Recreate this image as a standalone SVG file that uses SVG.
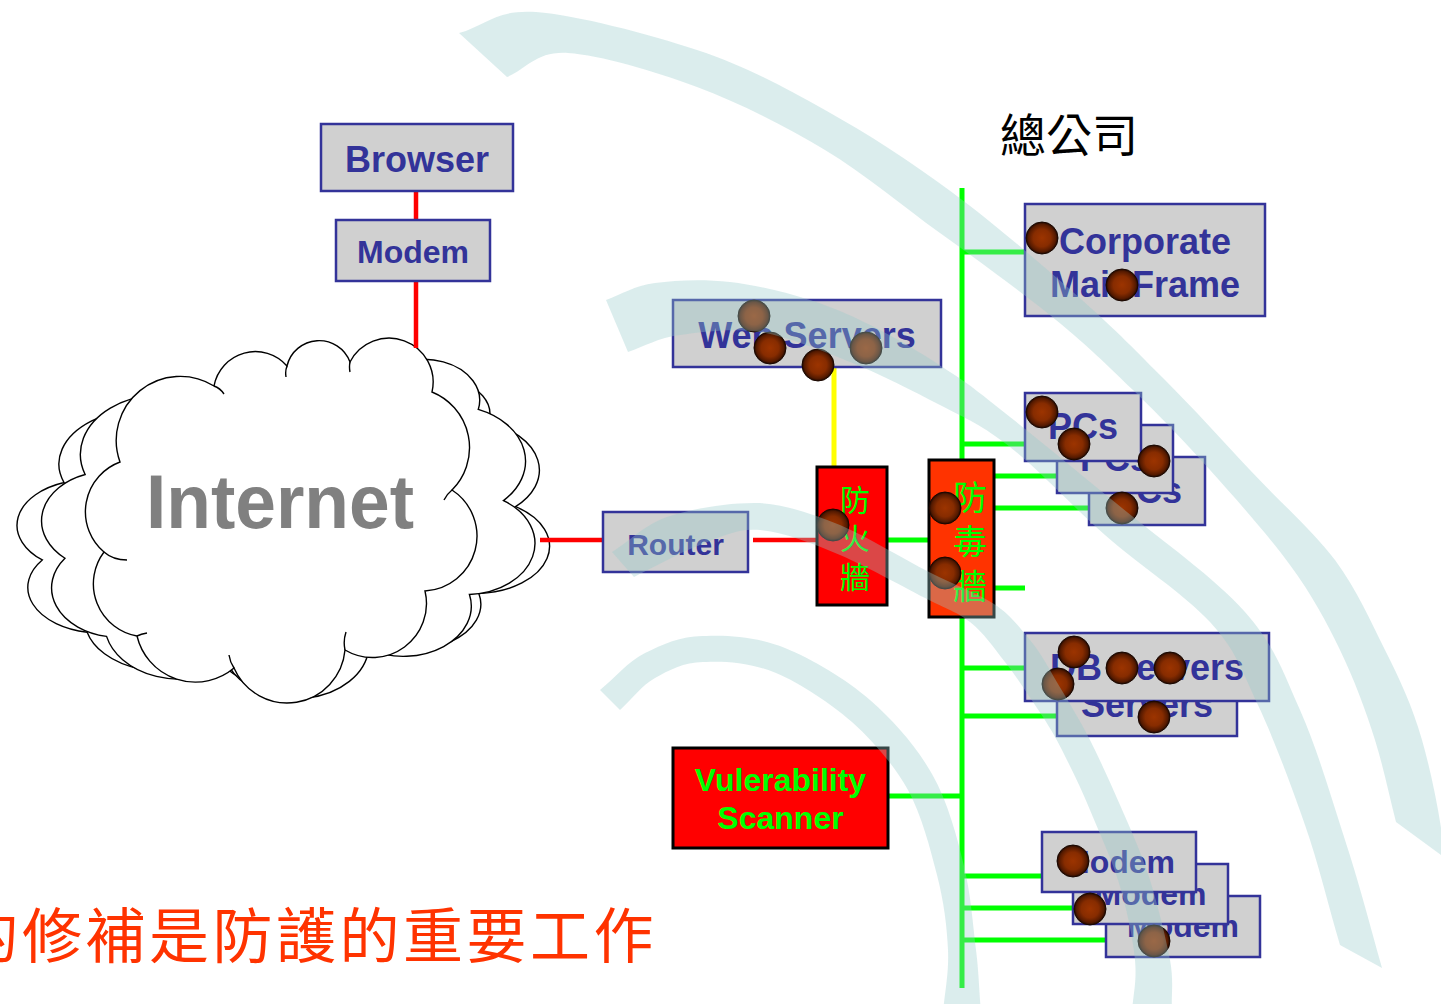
<svg xmlns="http://www.w3.org/2000/svg" xmlns:xlink="http://www.w3.org/1999/xlink" width="1441" height="1004" viewBox="0 0 1441 1004">
  <defs>
    <style>
      .box { fill:#D0D0D0; stroke:#333399; stroke-width:2.5; }
      .lbl { font-family:"Liberation Sans", Arial, sans-serif; font-weight:bold; fill:#333399; text-anchor:middle; }
      .alarm { stroke:#000000; stroke-width:3; }
      .cjk { font-family:"Noto Sans CJK TC", "Noto Sans CJK SC", sans-serif; text-anchor:middle; }
      .red { stroke:#FF0000; stroke-width:4.5; }
      .grn { stroke:#00FF00; stroke-width:5; }
      .ylw { stroke:#FFFF00; stroke-width:5; }
      .hole { fill:url(#ballShade); stroke:#1a0700; stroke-width:1; }
      .wave { fill:#99CCCC; fill-opacity:0.35; }
      .cloud { fill:#FFFFFF; stroke:#000000; stroke-width:1.4; vector-effect:non-scaling-stroke; }
      .tail { fill:none; stroke:#000000; stroke-width:1.4; }
    </style>
    <radialGradient id="ballShade" cx="0.5" cy="0.5" r="0.5">
      <stop offset="0" stop-color="#9c3400"/>
      <stop offset="0.55" stop-color="#872c00"/>
      <stop offset="0.85" stop-color="#551a00"/>
      <stop offset="1" stop-color="#1e0800"/>
    </radialGradient>
    <!-- cloud outline: bumps joined by circular arcs -->
    <path id="cloudShape" class="cloud" d="M104,552 A53,53 0 0 1 120,462 A64,64 0 0 1 214,386 A42,42 0 0 1 287,366 A33,33 0 0 1 350,362 A44,44 0 0 1 432,392 A60,60 0 0 1 452,490 A55,55 0 0 1 425,591 A54,54 0 0 1 345,650 A58,58 0 0 1 234,668 A60,60 0 0 1 137,636 A53,53 0 0 1 104,552 Z"/>
  </defs>

  <rect width="1441" height="1004" fill="#FFFFFF"/>

  <!-- Internet cloud (three stacked outlines) -->
  <g id="node-internet">
    <use xlink:href="#cloudShape" href="#cloudShape" transform="translate(283,532) scale(1.36,0.86) translate(-281,-519.5)"/>
    <use xlink:href="#cloudShape" href="#cloudShape" transform="translate(288,528) scale(1.26,0.93) translate(-281,-519.5)"/>
    <use xlink:href="#cloudShape" href="#cloudShape"/>
    <path class="tail" d="M104,552 Q113,560 127,560 M214,386 Q220,388 224,394 M287,366 Q285,371 286,377 M350,362 Q349,367 350,372 M452,490 Q447,494 444,500 M345,650 Q343,641 346,632 M234,668 Q230,662 229,655 M137,636 Q141,634 147,633"/>
    <text x="280" y="528" font-family="Liberation Sans, Arial, sans-serif" font-weight="bold" font-size="76" fill="#808080" text-anchor="middle" textLength="268" lengthAdjust="spacingAndGlyphs">Internet</text>
  </g>

  <!-- connectors -->
  <g id="connectors" fill="none">
    <line class="red" x1="416" y1="191" x2="416" y2="220"/>
    <line class="red" x1="416" y1="281" x2="416" y2="348"/>
    <line class="red" x1="540" y1="540" x2="603" y2="540"/>
    <line class="red" x1="753" y1="540" x2="817" y2="540"/>
    <line class="ylw" x1="834" y1="368" x2="834" y2="467"/>
    <line class="grn" x1="887" y1="540" x2="929" y2="540"/>
    <line class="grn" x1="962" y1="188" x2="962" y2="988"/>
    <line class="grn" x1="962" y1="252" x2="1025" y2="252"/>
    <line class="grn" x1="962" y1="444" x2="1025" y2="444"/>
    <line class="grn" x1="994" y1="476" x2="1057" y2="476"/>
    <line class="grn" x1="994" y1="508" x2="1089" y2="508"/>
    <line class="grn" x1="994" y1="588" x2="1025" y2="588"/>
    <line class="grn" x1="962" y1="668" x2="1025" y2="668"/>
    <line class="grn" x1="962" y1="716" x2="1057" y2="716"/>
    <line class="grn" x1="889" y1="796" x2="962" y2="796"/>
    <line class="grn" x1="962" y1="876" x2="1042" y2="876"/>
    <line class="grn" x1="962" y1="908" x2="1073" y2="908"/>
    <line class="grn" x1="962" y1="940" x2="1106" y2="940"/>
  </g>

  <g id="node-browser">
    <rect class="box" x="321" y="124" width="192" height="67"/>
    <text class="lbl" x="417" y="172" font-size="36">Browser</text>
  </g>
  <g id="node-modem">
    <rect class="box" x="336" y="220" width="154" height="61"/>
    <text class="lbl" x="413" y="263" font-size="32">Modem</text>
  </g>
  <g id="node-router">
    <rect class="box" x="603" y="512" width="145" height="60"/>
    <text class="lbl" x="675.5" y="555" font-size="30">Router</text>
  </g>
  <g id="node-webservers">
    <rect class="box" x="673" y="300" width="268" height="67"/>
    <text class="lbl" x="807" y="348" font-size="36">Web Servers</text>
  </g>
  <g id="node-firewall">
    <rect class="alarm" x="817" y="467" width="70" height="138" fill="#FF0000"/>
    <g class="cjk" font-size="30" fill="#00FF00">
      <text x="855" y="511">防</text>
      <text x="855" y="549">火</text>
      <text x="855" y="588">牆</text>
    </g>
  </g>
  <g id="node-antivirus">
    <rect class="alarm" x="929" y="460" width="65" height="157" fill="#FF3300"/>
    <g class="cjk" font-size="34" fill="#00FF00">
      <text x="970" y="510">防</text>
      <text x="970" y="554">毒</text>
      <text x="970" y="599">牆</text>
    </g>
  </g>
  <g id="node-title">
    <text x="1000" y="152" font-family="Noto Sans CJK TC, Noto Sans CJK SC, sans-serif" font-size="46" fill="#000000">總公司</text>
  </g>
  <g id="node-mainframe">
    <rect class="box" x="1025" y="204" width="240" height="112"/>
    <text class="lbl" x="1145" y="254" font-size="36">Corporate</text>
    <text class="lbl" x="1145" y="297" font-size="36">MainFrame</text>
  </g>
  <g id="node-pcs">
    <rect class="box" x="1089" y="457" width="116" height="68"/>
    <text class="lbl" x="1147" y="503" font-size="36">PCs</text>
    <rect class="box" x="1057" y="425" width="116" height="68"/>
    <text class="lbl" x="1115" y="471" font-size="36">PCs</text>
    <rect class="box" x="1025" y="393" width="116" height="68"/>
    <text class="lbl" x="1083" y="439" font-size="36">PCs</text>
  </g>
  <g id="node-dbservers">
    <rect class="box" x="1057" y="667" width="180" height="69"/>
    <text class="lbl" x="1147" y="717" font-size="36">Servers</text>
    <rect class="box" x="1025" y="633" width="244" height="68"/>
    <text class="lbl" x="1147" y="680" font-size="36">DB Servers</text>
  </g>
  <g id="node-scanner">
    <rect class="alarm" x="673" y="748" width="215" height="100" fill="#FF0000"/>
    <text x="780.5" y="791" font-family="Liberation Sans, Arial, sans-serif" font-weight="bold" font-size="32" fill="#00FF00" text-anchor="middle">Vulerability</text>
    <text x="780.5" y="829" font-family="Liberation Sans, Arial, sans-serif" font-weight="bold" font-size="32" fill="#00FF00" text-anchor="middle">Scanner</text>
  </g>
  <g id="node-modems">
    <rect class="box" x="1106" y="896" width="154" height="61"/>
    <text class="lbl" x="1183" y="937" font-size="32">Modem</text>
    <rect class="box" x="1073" y="864" width="155" height="60"/>
    <text class="lbl" x="1150.5" y="905" font-size="32">Modem</text>
    <rect class="box" x="1042" y="832" width="154" height="60"/>
    <text class="lbl" x="1119" y="873" font-size="32">Modem</text>
  </g>

  <!-- security holes -->
  <g id="holes">
    <circle class="hole" cx="754" cy="316" r="16"/>
    <circle class="hole" cx="770" cy="348" r="16"/>
    <circle class="hole" cx="818" cy="365" r="16"/>
    <circle class="hole" cx="866" cy="348" r="16"/>
    <circle class="hole" cx="1042" cy="238" r="16"/>
    <circle class="hole" cx="1122" cy="285" r="16"/>
    <circle class="hole" cx="1042" cy="412" r="16"/>
    <circle class="hole" cx="1074" cy="444" r="16"/>
    <circle class="hole" cx="1154" cy="461" r="16"/>
    <circle class="hole" cx="1122" cy="508" r="16"/>
    <circle class="hole" cx="833" cy="525" r="16"/>
    <circle class="hole" cx="945" cy="508" r="16"/>
    <circle class="hole" cx="945" cy="573" r="16"/>
    <circle class="hole" cx="1074" cy="652" r="16"/>
    <circle class="hole" cx="1122" cy="668" r="16"/>
    <circle class="hole" cx="1170" cy="668" r="16"/>
    <circle class="hole" cx="1058" cy="684" r="16"/>
    <circle class="hole" cx="1154" cy="717" r="16"/>
    <circle class="hole" cx="1073" cy="861" r="16"/>
    <circle class="hole" cx="1090" cy="909" r="16"/>
    <circle class="hole" cx="1154" cy="941" r="16"/>
  </g>

  <!-- caption -->
  <text x="-41.5" y="958" font-family="Noto Sans CJK TC, Noto Sans CJK SC, sans-serif" font-size="60" letter-spacing="3.5" fill="#FF3300">的修補是防護的重要工作</text>

  <!-- translucent background waves -->
  <g id="waves" class="wave">
    <path d="M459,33 C485,26 496,9 536,12 C576,15 649,34 697,50 C745,66 782,86 825,110 C868,134 910,161 953,193 C996,225 1047,269 1082,300 C1117,331 1137,352 1165,380 C1193,408 1222,440 1250,470 C1278,500 1312,530 1335,560 C1357,590 1370,620 1385,650 C1400,680 1412,705 1422,740 C1432,775 1441,820 1445,858 L1396,822 C1389,795 1384,769 1375,740 C1366,711 1354,679 1340,650 C1326,621 1312,595 1290,565 C1268,535 1236,499 1210,470 C1184,441 1159,415 1133,390 C1107,365 1088,346 1056,320 C1024,294 979,261 940,233 C901,205 865,174 825,150 C785,126 740,103 697,87 C654,71 600,55 568,53 C536,51 527,69 507,77 Z"/>
    <path d="M606,300 C622,294 634,286 655,283 C676,280 704,279 730,282 C756,285 785,292 810,300 C835,308 857,318 880,330 C903,342 928,357 950,372 C972,386 981,394 1010,417 C1039,440 1083,476 1122,508 C1161,540 1215,578 1245,612 C1275,646 1283,672 1300,710 C1317,748 1331,797 1345,840 C1359,883 1370,925 1382,968 L1340,945 C1328,905 1319,865 1305,825 C1291,785 1274,739 1258,705 C1242,671 1236,650 1210,622 C1184,594 1138,564 1105,535 C1072,506 1038,469 1010,447 C982,425 967,419 940,405 C913,391 880,374 850,362 C820,350 788,337 760,332 C732,328 702,332 680,335 C658,338 645,346 628,352 Z"/>
    <path d="M612,552 C631,540 645,524 670,516 C695,508 732,502 760,503 C788,505 812,514 840,525 C868,537 903,559 929,572 C955,585 977,593 994,604 C1011,615 1019,627 1030,640 C1041,653 1048,667 1058,684 C1068,701 1080,720 1090,740 C1100,760 1110,782 1120,805 C1130,828 1142,854 1150,880 C1158,906 1166,938 1170,960 C1174,982 1171,995 1172,1012 L1132,1012 C1133,995 1137,982 1135,960 C1133,938 1126,905 1118,880 C1110,855 1099,832 1090,810 C1081,788 1071,768 1062,750 C1053,732 1045,720 1035,705 C1025,690 1016,676 1005,662 C994,648 983,632 970,622 C957,612 951,611 929,600 C907,589 868,567 840,555 C812,543 783,532 760,530 C737,528 721,537 700,545 C679,553 656,566 634,577 Z"/>
    <path d="M600,690 C615,678 627,662 645,653 C663,644 683,635 706,636 C729,635 758,637 785,648 C812,659 846,679 870,700 C894,721 916,746 932,774 C948,802 957,837 964,866 C971,895 973,926 976,950 C979,974 979,991 981,1012 L943,1012 C945,991 949,973 948,950 C947,927 944,902 937,875 C930,848 922,816 908,790 C894,765 874,742 852,722 C830,703 800,683 776,673 C752,663 726,661 706,662 C686,661 669,670 655,678 C641,686 632,699 620,710 Z"/>
  </g>
</svg>
